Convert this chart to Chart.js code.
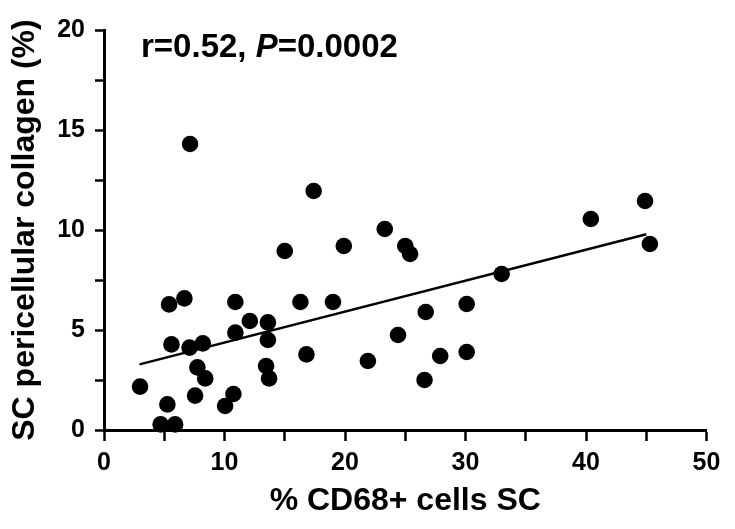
<!DOCTYPE html>
<html>
<head>
<meta charset="utf-8">
<script src="https://cdn.jsdelivr.net/npm/chart.js@4/dist/chart.umd.min.js"></script>
<style>
  html, body { margin: 0; padding: 0; background: #fff; }
  #wrap { width: 735px; height: 529px; }
</style>
</head>
<body>
<div id="wrap"><canvas id="c" width="735" height="529"></canvas></div>
<script>
// Data
const cd68X = [2.99, 4.7, 5.9, 5.26, 5.4, 6.67, 7.14, 5.6, 7.1, 8.2, 7.75, 8.4, 7.56, 10.05, 10.74, 10.9, 10.9, 12.1, 13.6, 13.6, 13.45, 13.7, 15.0, 16.3, 16.8, 17.4, 19.0, 19.9, 21.9, 23.3, 24.4, 25.0, 25.4, 26.7, 26.6, 27.9, 30.1, 30.1, 33.0, 40.4, 44.9, 45.3];
const collagenY = [2.17, 0.28, 0.28, 1.28, 6.28, 6.58, 14.3, 4.28, 4.12, 4.33, 3.13, 2.58, 1.72, 1.2, 1.8, 4.87, 6.4, 5.45, 5.38, 4.5, 3.2, 2.58, 8.95, 6.4, 3.78, 11.95, 6.4, 9.2, 3.45, 10.05, 4.75, 9.2, 8.8, 5.9, 2.5, 3.7, 6.3, 3.9, 7.8, 10.55, 11.45, 9.3];
const fitX = [2.95, 45.0];
const fitY = [3.28, 9.79];
const xTickValues = [0, 10, 20, 30, 40, 50];
const yTickValues = [0, 5, 10, 15, 20];
const xTitle = '% CD68+ cells SC';
const yTitle = 'SC pericellular collagen (%)';

const FONT = '"Liberation Sans", Arial, sans-serif';

const points = cd68X.map((x, i) => ({ x: x, y: collagenY[i] }));
const fitLine = fitX.map((x, i) => ({ x: x, y: fitY[i] }));

const annotation = {
  id: 'annotation',
  afterDraw(chart) {
    const ctx = chart.ctx;
    ctx.save();
    ctx.fillStyle = '#000';
    ctx.textBaseline = 'alphabetic';
    let x = 141, y = 57;
    const size = 33;
    ctx.font = 'bold ' + size + 'px ' + FONT;
    const a = 'r=0.52, ';
    ctx.fillText(a, x, y);
    x += ctx.measureText(a).width;
    ctx.font = 'italic bold ' + size + 'px ' + FONT;
    ctx.fillText('P', x, y);
    x += ctx.measureText('P').width;
    ctx.font = 'bold ' + size + 'px ' + FONT;
    ctx.fillText('=0.0002', x, y);
    ctx.restore();
  }
};

new Chart(document.getElementById('c'), {
  type: 'scatter',
  data: {
    datasets: [
      {
        data: points,
        backgroundColor: '#000',
        borderWidth: 0,
        pointRadius: 8.3,
        pointHoverRadius: 8.3,
        clip: false
      },
      {
        type: 'line',
        data: fitLine,
        borderColor: '#000',
        borderWidth: 2.5,
        pointRadius: 0,
        fill: false,
        showLine: true
      }
    ]
  },
  options: {
    responsive: false,
    animation: false,
    devicePixelRatio: 1,
    plugins: { legend: { display: false }, tooltip: { enabled: false } },
    layout: { padding: { top: 30, right: 28.5, left: 0, bottom: 0 } },
    scales: {
      x: {
        type: 'linear',
        min: 0, max: 50,
        afterFit(scale) { scale.height = 99; },
        border: { display: true, color: '#000', width: 3 },
        grid: { display: true, drawOnChartArea: false, drawTicks: true, tickLength: 11, tickWidth: 2.5, tickColor: '#000' },
        ticks: {
          stepSize: 5, autoSkip: false, maxRotation: 0, color: '#000', padding: 7,
          font: { family: FONT, size: 25, weight: 'bold' },
          callback: (v) => xTickValues.includes(v) ? String(v) : ''
        },
        title: {
          display: true, text: xTitle, color: '#000',
          font: { family: FONT, size: 32, weight: 'bold' },
          padding: { top: 0, bottom: 9 }
        }
      },
      y: {
        type: 'linear',
        min: 0, max: 20,
        afterFit(scale) { scale.width = 104; },
        border: { display: true, color: '#000', width: 3 },
        grid: { display: true, drawOnChartArea: false, drawTicks: true, tickLength: 9, tickWidth: 2.5, tickColor: '#000' },
        ticks: {
          stepSize: 2.5, autoSkip: false, color: '#000', padding: 10,
          font: { family: FONT, size: 25, weight: 'bold' },
          callback: (v) => yTickValues.includes(v) ? String(v) : ''
        },
        title: {
          display: true, text: yTitle, color: '#000',
          font: { family: FONT, size: 32, weight: 'bold' },
          padding: { top: 6, bottom: 0 }
        }
      }
    }
  },
  plugins: [annotation]
});
</script>
</body>
</html>
